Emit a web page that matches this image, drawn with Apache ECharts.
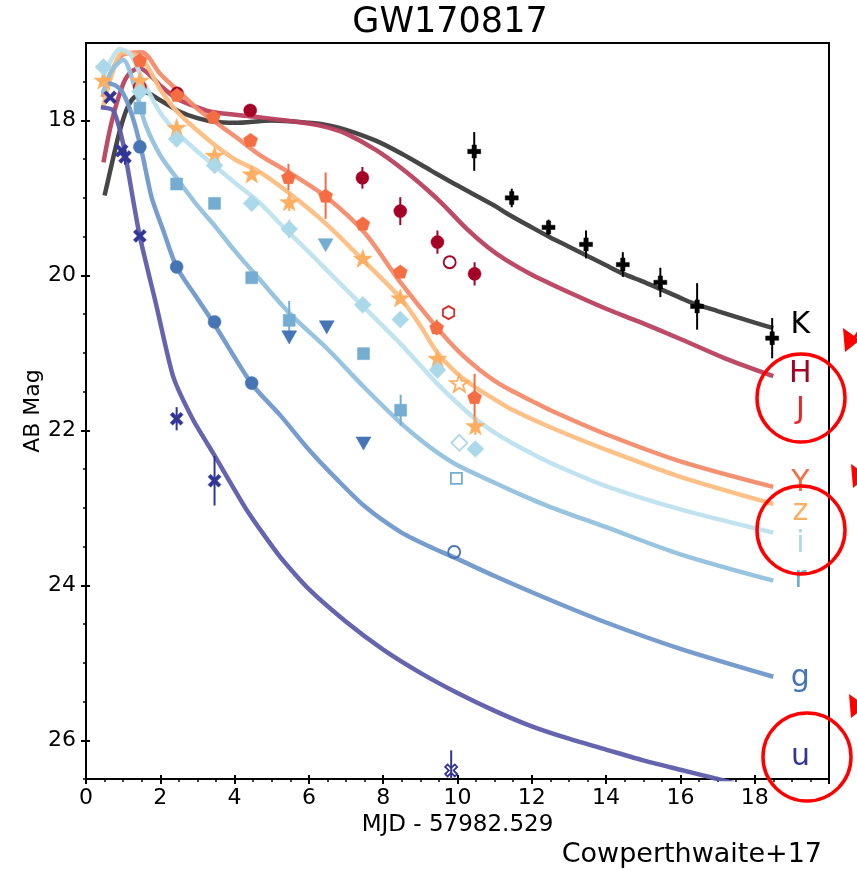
<!DOCTYPE html>
<html><head><meta charset="utf-8">
<script src="https://cdn.jsdelivr.net/npm/echarts@6/dist/echarts.min.js"></script>
<style>html,body{margin:0;padding:0;background:#fff}#c{width:857px;height:870px}</style>
</head><body><div id="c"></div>
<script>
// ---------- tick values ----------
const yMajor = [18, 20, 22, 24, 26];
const yMinor = [17.5, 18.5, 19, 19.5, 20.5, 21, 21.5, 22.5, 23, 23.5, 24.5, 25, 25.5, 26.5];

// ---------- model curves ----------
const K_line = [[0.5,18.97],[0.7,18.55],[0.9,18.15],[1.1,17.85],[1.3,17.7],[1.6,17.64],[2.0,17.74],[2.5,17.88],[3.0,17.97],[3.5,18.02],[4.0,18.03],[5.0,18.0],[6.0,18.03],[6.5,18.06],[7.0,18.12],[7.8,18.26],[8.5,18.43],[9.3,18.65],[10.0,18.84],[11.0,19.1],[11.33,19.2],[12.0,19.38],[12.5,19.51],[13.0,19.63],[14.0,19.87],[14.47,19.98],[15.0,20.08],[16.0,20.29],[16.35,20.36],[17.0,20.46],[18.0,20.61],[18.5,20.68]];
const H_line = [[0.47,18.54],[0.7,18.0],[1.0,17.53],[1.2,17.38],[1.45,17.33],[1.8,17.45],[2.0,17.55],[2.45,17.72],[3.0,17.83],[3.4,17.89],[4.5,17.95],[5.2,17.99],[6.0,18.04],[6.5,18.09],[7.0,18.17],[7.8,18.38],[8.5,18.62],[9.2,18.9],[9.6,19.08],[10.25,19.4],[10.8,19.63],[11.3,19.8],[12.0,19.99],[13.1,20.24],[14.0,20.43],[14.9,20.6],[16.0,20.82],[17.2,21.07],[18.5,21.3]];
const Y_line = [[0.45,17.7],[0.7,17.35],[1.0,17.15],[1.5,17.12],[2.0,17.4],[2.44,17.6],[3.0,17.85],[3.5,18.03],[4.0,18.2],[4.69,18.45],[5.5,18.68],[6.5,19.0],[7.5,19.45],[8.45,20.08],[9.44,20.67],[10.07,21.0],[10.6,21.22],[11.0,21.36],[11.42,21.48],[12.0,21.62],[12.5,21.74],[14.0,22.05],[16.0,22.4],[18.5,22.73]];
const z_line = [[0.45,17.85],[0.7,17.4],[1.0,17.12],[1.5,17.2],[2.0,17.6],[2.44,17.88],[3.0,18.13],[3.5,18.33],[4.0,18.5],[4.69,18.67],[5.5,18.95],[6.5,19.35],[7.45,19.8],[8.46,20.29],[9.0,20.65],[9.46,21.0],[10.0,21.27],[10.5,21.45],[11.0,21.6],[11.42,21.72],[12.5,21.96],[14.0,22.25],[16.0,22.6],[18.5,22.95]];
const i_line = [[0.45,17.45],[0.7,17.2],[0.9,17.08],[1.2,17.15],[1.6,17.55],[2.0,17.9],[2.44,18.15],[3.0,18.4],[3.5,18.6],[4.0,18.8],[4.69,19.07],[5.22,19.33],[6.0,19.7],[6.75,20.06],[7.44,20.39],[8.46,20.88],[9.46,21.4],[10.0,21.65],[10.45,21.84],[11.0,22.03],[11.42,22.15],[12.0,22.3],[12.5,22.42],[14.0,22.72],[16.0,23.02],[18.5,23.32]];
const r_line = [[0.45,17.65],[0.7,17.35],[1.0,17.22],[1.3,17.55],[1.6,18.05],[2.0,18.45],[2.45,18.75],[3.0,19.1],[3.5,19.38],[4.0,19.68],[4.69,20.06],[5.5,20.5],[6.5,20.95],[7.5,21.45],[8.46,21.9],[9.0,22.12],[9.5,22.3],[10.0,22.45],[10.88,22.65],[11.7,22.83],[12.5,22.99],[14.0,23.25],[16.0,23.6],[18.5,23.94]];
const g_line = [[0.45,17.5],[0.8,17.55],[1.0,17.65],[1.25,17.95],[1.5,18.4],[1.77,19.0],[2.08,19.42],[2.44,19.89],[3.0,20.3],[3.43,20.61],[4.46,21.4],[5.22,21.8],[6.0,22.25],[6.75,22.63],[7.5,22.98],[8.46,23.31],[9.2,23.49],[9.91,23.64],[11.0,23.88],[12.4,24.17],[14.0,24.48],[16.0,24.82],[18.5,25.18]];
const u_line = [[0.4,17.83],[0.73,17.87],[1.0,18.3],[1.27,19.03],[1.45,19.5],[1.9,20.4],[2.35,21.31],[2.89,21.87],[3.43,22.3],[4.33,23.03],[5.22,23.63],[6.0,24.05],[7.0,24.47],[8.0,24.83],[9.0,25.13],[10.0,25.39],[11.0,25.62],[12.0,25.82],[13.0,25.98],[14.0,26.12],[15.0,26.26],[16.0,26.38],[17.0,26.5],[18.5,26.68]];

// ---------- photometry (x, mag) and 1-sigma errors ----------
const K_pts = [[10.45,18.40],[11.46,19.00],[12.45,19.38],[13.46,19.60],[14.45,19.86],[15.46,20.09],[16.45,20.40],[18.47,20.81]];
const K_err = [0.25,0.12,0.10,0.18,0.16,0.19,0.30,0.26];
const H_pts = [[1.45,17.57],[2.45,17.65],[4.42,17.87],[7.44,18.74],[8.46,19.17],[9.46,19.57],[10.46,19.98]];
const H_err = [0,0,0.08,0.14,0.18,0.15,0.15];
const H_open = [[9.79,19.83]];
const J_open = [[9.76,20.48]];
const Y_pts = [[1.45,17.22],[2.45,17.67],[3.43,17.95],[4.43,18.25],[5.45,18.73],[6.45,18.97],[7.45,19.33],[8.46,19.95],[9.44,20.67],[10.46,21.57]];
const Y_err = [0,0,0,0,0.17,0.3,0,0,0.1,0.3];
const z_pts = [[0.47,17.48],[1.45,17.48],[2.44,18.09],[3.46,18.45],[4.46,18.69],[5.47,19.05],[7.45,19.78],[8.46,20.29],[9.46,21.07],[10.48,21.94]];
const z_err = [0,0,0,0,0,0.12,0,0,0,0.12];
const z_open = [[10.05,21.39]];
const i_pts = [[0.47,17.31],[1.45,17.63],[2.44,18.24],[3.46,18.58],[4.46,19.07],[5.47,19.40],[7.45,20.38],[8.46,20.57],[9.46,21.22],[10.48,22.24]];
const i_err = [0,0,0,0,0,0.12,0,0,0,0];
const i_open = [[10.05,22.16]];
const r_pts = [[1.45,17.84],[2.44,18.82],[3.46,19.07],[4.46,20.03],[5.47,20.58],[7.47,21.01],[8.47,21.74]];
const r_err = [0,0,0,0,0.25,0.05,0.2];
const r_open = [[9.97,22.62]];
const r_tri = [[6.45,19.61]];
const g_pts = [[1.45,18.34],[2.44,19.89],[3.46,20.60],[4.46,21.39]];
const g_err = [0,0,0,0.08];
const g_open = [[9.91,23.57]];
const g_tri = [[5.47,20.80],[6.48,20.67],[7.47,22.17]];
const u_pts = [[0.65,17.70],[0.96,18.39],[1.05,18.47],[1.45,19.49],[2.44,21.85],[3.46,22.65]];
const u_err = [0,0,0.1,0,0.15,0.32];
const u_open = [[9.83,26.39]];
const u_open_err = [0.26];

// ---------- band labels ----------
const labelNames = ['K','H','J','Y','z','i','r','g','u'];
const labelX = 19.23;
const labelY = [20.64, 21.28, 21.74, 22.68, 23.06, 23.47, 23.92, 25.2, 26.22];

const FONT = 'DejaVu Sans';
const MC = {K:'#000000',H:'#a50026',J:'#d73027',Y:'#f46d43',z:'#fdae61',i:'#abd9e9',r:'#74add1',g:'#4575b4',u:'#313695'};
const LC = {K:'#3c3c3c',H:'#b9405e',Y:'#f48b6c',z:'#fdbd80',i:'#bde2ee',r:'#93c1de',g:'#6f98cb',u:'#5d5cab'};
const TC = {K:'#000000',H:'#a50026',J:'#e8262a',Y:'#f46d43',z:'#fdae61',i:'#abd9e9',r:'#74add1',g:'#4575b4',u:'#313695'};

const SYM = {
  plus: 'path://M-1,-3L1,-3L1,-1L3,-1L3,1L1,1L1,3L-1,3L-1,1L-3,1L-3,-1L-1,-1Z',
  x: 'path://M-3,-1.8L-1.8,-3L0,-1.2L1.8,-3L3,-1.8L1.2,0L3,1.8L1.8,3L0,1.2L-1.8,3L-3,1.8L-1.2,0Z',
  pent: 'path://M0,-1L0.951,-0.309L0.588,0.809L-0.588,0.809L-0.951,-0.309Z',
  star: 'path://M0,-1L0.235,-0.324L0.951,-0.309L0.38,0.124L0.588,0.809L0,0.4L-0.588,0.809L-0.38,0.124L-0.951,-0.309L-0.235,-0.324Z',
  hex: 'path://M0,-1L0.866,-0.5L0.866,0.5L0,1L-0.866,0.5L-0.866,-0.5Z',
  tri: 'path://M-1,-0.85L1,-0.85L0,0.9Z'
};

const series = [];
function addLine(data, color, sm){
  series.push({type:'line', data:data, symbol:'none', showSymbol:false, silent:true,
    smooth: sm,
    lineStyle:{color:color, width:4.5, opacity:0.95}, z:2});
}
function addErr(pts, errs, color){
  const d = [];
  pts.forEach((p,k)=>{ if(errs[k]>0) d.push([p[0], p[1]-errs[k], p[1]+errs[k]]); });
  if(!d.length) return;
  series.push({type:'custom', data:d, z:3, silent:true, clip:true,
    encode:{x:0,y:[1,2]},
    renderItem:function(params, api){
      const a = api.coord([api.value(0), api.value(1)]);
      const b = api.coord([api.value(0), api.value(2)]);
      return {type:'line', shape:{x1:a[0],y1:a[1],x2:b[0],y2:b[1]}, style:{stroke:color, lineWidth:2}};
    }});
}
function addPts(data, symbol, size, color, hollow, rotate){
  series.push({type:'scatter', data:data, symbol:symbol, symbolSize:size, symbolKeepAspect:true,
    symbolRotate: rotate||0, z:4, silent:true,
    itemStyle: hollow ? {color:'rgba(0,0,0,0)', borderColor:color, borderWidth:1.8, opacity:1}
                      : {color:color, borderColor:color, borderWidth:0.5, opacity:1}});
}

addLine(K_line, LC.K, 0.3); addLine(H_line, LC.H, 0.3); addLine(Y_line, LC.Y, 0.3); addLine(z_line, LC.z, 0.3);
addLine(i_line, LC.i, 0.3); addLine(r_line, LC.r, 0.3); addLine(g_line, LC.g, 0.25); addLine(u_line, LC.u, 0.2);

addErr(K_pts, K_err, MC.K); addErr(H_pts, H_err, MC.H); addErr(Y_pts, Y_err, MC.Y);
addErr(z_pts, z_err, MC.z); addErr(i_pts, i_err, MC.i); addErr(r_pts, r_err, MC.r);
addErr(g_pts, g_err, MC.g); addErr(u_pts, u_err, MC.u); addErr(u_open, u_open_err, MC.u);

addPts(K_pts, SYM.plus, 13, MC.K);
addPts(H_pts, 'circle', 13, MC.H); addPts(H_open, 'circle', 12, MC.H, true);
addPts(J_open, SYM.hex, 13, MC.J, true);
addPts(Y_pts, SYM.pent, 14, MC.Y);
addPts(z_pts, SYM.star, 19, MC.z); addPts(z_open, SYM.star, 18, MC.z, true);
addPts(i_pts, 'diamond', 17, MC.i); addPts(i_open, 'diamond', 16, MC.i, true);
addPts(r_pts, 'rect', 12, MC.r); addPts(r_open, 'rect', 11, MC.r, true);
addPts(r_tri, SYM.tri, 15, MC.r);
addPts(g_pts, 'circle', 13, MC.g); addPts(g_open, 'circle', 12, MC.g, true);
addPts(g_tri, SYM.tri, 15, MC.g);
addPts(u_pts, SYM.x, 13, MC.u); addPts(u_open, SYM.x, 12, MC.u, true);

// band name labels
series.push({type:'scatter', symbolSize:2, itemStyle:{color:'rgba(0,0,0,0)'}, z:5, silent:true, clip:false,
  labelLayout:{hideOverlap:false},
  data: labelNames.map((n,k)=>({name:n, value:[labelX, labelY[k]],
    label:{show:true, position:'inside', formatter:n, color:TC[n], opacity:1, textBorderWidth:0,
           fontSize:30, fontFamily:FONT}}))});

function arrow(tx, ty){
  return [
    {type:'line', shape:{x1:tx+8, y1:ty-12, x2:tx+30, y2:ty-44}, style:{stroke:'#ff0000', lineWidth:3}, z:10},
    {type:'polygon', shape:{points:[[tx,ty],[tx-2,ty-24],[tx+15,ty-12]]}, style:{fill:'#ff0000'}, z:10}
  ];
}
function ring(cx, cy){
  return {type:'circle', shape:{cx:cx, cy:cy, r:44}, style:{stroke:'#ff0000', fill:'none', lineWidth:3.5}, z:10};
}

const option = {
  animation:false,
  backgroundColor:'#fff',
  textStyle:{fontFamily:FONT},
  grid:{left:86, right:28, top:43, bottom:91, show:true, borderColor:'#000', borderWidth:2, backgroundColor:'rgba(0,0,0,0)'},
  xAxis:[
    {type:'value', min:0, max:20, interval:2, position:'bottom',
     axisLine:{show:true, onZero:false, lineStyle:{color:'#000', width:2}},
     axisTick:{show:true, length:5, lineStyle:{color:'#000', width:2}},
     minorTick:{show:true, splitNumber:4, length:3, lineStyle:{color:'#000', width:1.5}},
     axisLabel:{fontSize:22, color:'#000', margin:8, fontFamily:FONT, formatter:function(v){return v>=20?'':String(v);}},
     splitLine:{show:false}, minorSplitLine:{show:false},
     name:'MJD - 57982.529', nameLocation:'middle', nameGap:35,
     nameTextStyle:{fontSize:23, color:'#000', fontFamily:FONT}},
    {type:'value', min:0, max:20, interval:2, position:'bottom',
     axisLine:{show:false, onZero:false}, axisTick:{show:true, inside:true, length:4, lineStyle:{color:'#000', width:2}},
     axisLabel:{show:false}, splitLine:{show:false}}
  ],
  yAxis:[
    {type:'value', inverse:true, min:17, max:26.5, position:'left',
     axisLine:{show:true, onZero:false, lineStyle:{color:'#000', width:2}},
     axisTick:{show:true, customValues:yMajor, length:5, lineStyle:{color:'#000', width:2}},
     axisLabel:{customValues:yMajor, fontSize:22, color:'#000', margin:10, fontFamily:FONT},
     splitLine:{show:false},
     name:'AB Mag', nameLocation:'middle', nameGap:42, nameMoveOverlap:false,
     nameTextStyle:{fontSize:22, color:'#000', fontFamily:FONT}},
    {type:'value', inverse:true, min:17, max:26.5, position:'left',
     axisLine:{show:false, onZero:false},
     axisTick:{show:true, inside:true, customValues:yMajor, length:4, lineStyle:{color:'#000', width:2}},
     axisLabel:{show:false}, splitLine:{show:false}},
    {type:'value', inverse:true, min:17, max:26.5, position:'left',
     axisLine:{show:false, onZero:false},
     axisTick:{show:true, customValues:yMinor, length:3, lineStyle:{color:'#000', width:1.5}},
     axisLabel:{show:false}, splitLine:{show:false}}
  ],
  graphic:[
    {type:'text', x:450, y:23, style:{text:'GW170817', fontSize:35, fontFamily:FONT, fill:'#000', align:'center', verticalAlign:'middle', textAlign:'center', textVerticalAlign:'middle'}},
    {type:'text', x:822, y:855, style:{text:'Cowperthwaite+17', fontSize:27, fontFamily:FONT, fill:'#000', align:'right', verticalAlign:'middle', textAlign:'right', textVerticalAlign:'middle'}},
    ring(801, 398), ring(801, 530), ring(807, 757)
  ].concat(arrow(845,352), arrow(853,488), arrow(851,718)),
  series: series
};
const chart = echarts.init(document.getElementById('c'), null, {renderer:'canvas'});
chart.setOption(option);
</script></body></html>
